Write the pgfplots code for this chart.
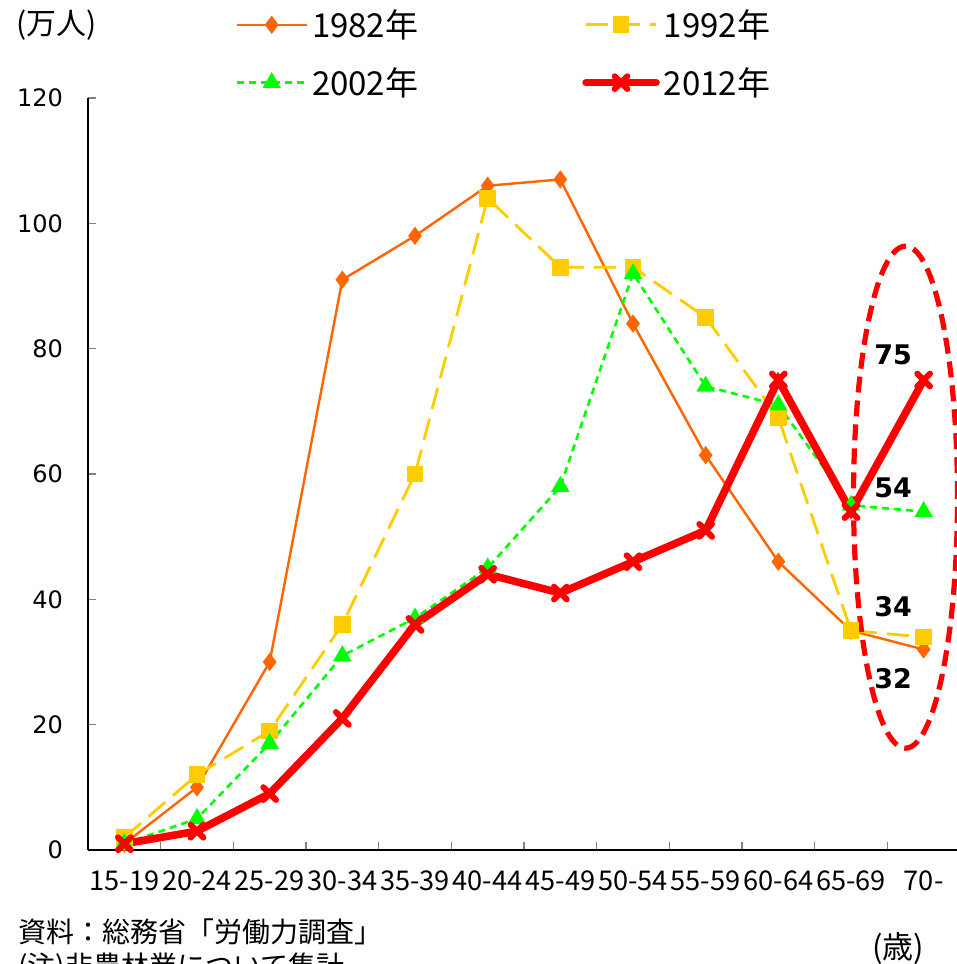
\documentclass[border=0pt]{standalone}
\usepackage{pgfplots}
\pgfplotsset{compat=1.18}
\usepackage{fontspec}
\setmainfont{DejaVu Sans}
\newfontfamily\cjk{Noto Sans CJK JP}
\newfontfamily\dv{DejaVu Sans}
\definecolor{c82}{HTML}{FF6600}
\definecolor{c92}{HTML}{FFCC00}
\definecolor{c02}{HTML}{00FF00}
\definecolor{c12}{HTML}{FF0000}
\begin{document}
\begin{tikzpicture}
\begin{axis}[
  at={(0,0)}, anchor=south west,
  scale only axis, width=436pt, height=376pt,
  xmin=-0.5, xmax=11.5, ymin=0, ymax=120,
  axis x line*=bottom, axis y line*=left,
  axis line style={-, black, line width=0.8pt},
  tick align=inside,
  xtick={0,...,11},
  xticklabels={15-19,20-24,25-29,30-34,35-39,40-44,45-49,50-54,55-59,60-64,65-69,70-},
  major x tick style={draw=none},
  minor xtick={0.5,1.5,...,10.5},
  minor x tick style={gray, line width=0.8pt},
  minor tick length=4pt,
  ytick={0,20,...,120},
  y tick style={gray, line width=0.8pt},
  major tick length=4pt,
  /pgf/number format/assume math mode=true,
  yticklabel style={font=\dv\fontsize{12}{14}\selectfont, xshift=-9pt},
  xticklabel style={font=\cjk\fontsize{13.6}{16}\selectfont, yshift=-7pt, inner xsep=0pt},
  clip=false,
  legend columns=2,
  legend style={draw=none, fill=none, at={(axis description cs:0.1686,1.1237)}, anchor=north west,
    font=\cjk\fontsize{16.5}{18}\selectfont, inner sep=0pt, row sep=9.5pt,
    /tikz/every even column/.append style={column sep=80pt}},
  legend cell align=left,
  legend image code/.code={\draw[mark repeat=2,mark phase=2] plot coordinates {(0pt,0pt) (17.5pt,0pt) (35pt,0pt)};},
]
% 1982
\addplot[c82, line width=1.2pt, mark=diamond*, mark size=3.6pt, mark options={solid}]
  coordinates {(0,1) (1,10) (2,30) (3,91) (4,98) (5,106) (6,107) (7,84) (8,63) (9,46) (10,35) (11,32)};
\addlegendentry{1982年}
% 1992
\addplot[c92, line width=1.4pt, dash pattern=on 11pt off 5pt, mark=square*, mark size=3.5pt, mark options={solid}]
  coordinates {(0,2) (1,12) (2,19) (3,36) (4,60) (5,104) (6,93) (7,93) (8,85) (9,69) (10,35) (11,34)};
\addlegendentry{1992年}
% 2002
\addplot[c02, line width=1.3pt, dash pattern=on 3.5pt off 2.5pt, mark=triangle*, mark size=4pt, mark options={solid}]
  coordinates {(0,1) (1,5) (2,17) (3,31) (4,37) (5,45) (6,58) (7,92) (8,74) (9,71) (10,55) (11,54)};
\addlegendentry{2002年}
% 2012
\addplot[c12, line width=3.8pt, line cap=round, mark=x, mark size=4.5pt, mark options={solid, line width=3pt}]
  coordinates {(0,1) (1,3) (2,9) (3,21) (4,36) (5,44) (6,41) (7,46) (8,51) (9,75) (10,54) (11,75)};
\addlegendentry{2012年}

\draw[c12, line width=2.6pt, dash pattern=on 8pt off 4pt] (axis cs:10.75,56.3) ellipse [x radius=26pt, y radius=125.5pt];
\node[font=\dv\bfseries\fontsize{13.5}{15}\selectfont] at (axis cs:10.58,79) {75};
\node[font=\dv\bfseries\fontsize{13.5}{15}\selectfont] at (axis cs:10.58,57.8) {54};
\node[font=\dv\bfseries\fontsize{13.5}{15}\selectfont] at (axis cs:10.58,38.8) {34};
\node[font=\dv\bfseries\fontsize{13.5}{15}\selectfont] at (axis cs:10.58,27.4) {32};
\end{axis}
\node[font=\cjk\fontsize{15}{17}\selectfont] at (-15.5pt,412.5pt) {(万人)};
\node[font=\cjk\fontsize{14}{16}\selectfont, anchor=west, inner sep=0pt] at (-35pt,-41pt) {資料：総務省「労働力調査」};
\node[font=\cjk\fontsize{14}{16}\selectfont, anchor=west, inner sep=0pt] at (-35pt,-58.5pt) {(注)非農林業について集計};
\node[font=\cjk\fontsize{15.5}{17}\selectfont] at (405pt,-49.5pt) {(歳)};
\pgfresetboundingbox
\path[use as bounding box] (-44pt,-57pt) rectangle (434.5pt,425pt);
\end{tikzpicture}
\end{document}
